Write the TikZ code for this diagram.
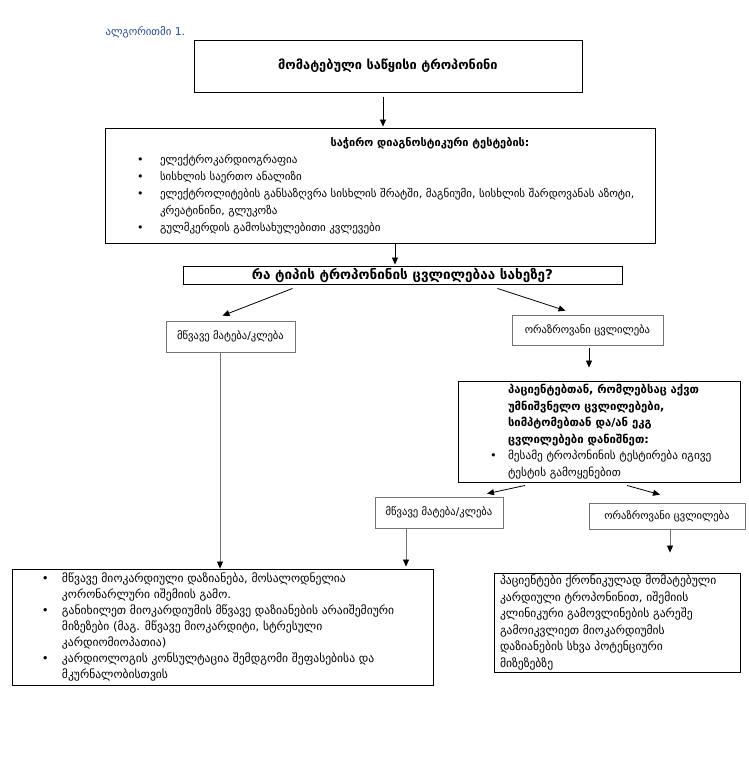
\documentclass[tikz,border=0pt]{standalone}
\usepackage{fontspec}
\setmainfont{DejaVu Sans}
\usetikzlibrary{arrows.meta,calc}
\definecolor{titleblue}{RGB}{40,75,140}
\newcommand{\fsz}[2]{\fontsize{#1}{#2}\selectfont}
\newcommand{\bul}[2]{\par\noindent\hangindent=#1\hangafter=1\makebox[#1][l]{•}#2\par}
\begin{document}
\begin{tikzpicture}[x=1pt,y=-1pt,
  box/.style={draw=black, line width=0.9pt, inner sep=0pt},
  gbox/.style={draw=black!55, line width=0.7pt, inner sep=0pt},
  arr/.style={draw=black, line width=0.8pt, -{Triangle[length=7pt,width=6pt]}},
  garr/.style={draw=black!55, line width=0.8pt, -{Triangle[length=7pt,width=6pt,color=black]}}]
\useasboundingbox (0,0) rectangle (748,784);
\fill[white] (0,0) rectangle (748,784);

\node[anchor=west, text=titleblue, font=\fsz{10.8}{12}] (title) at (102,32) {ალგორითმი 1.};

\node[box, minimum width=388pt, minimum height=52pt, font=\fsz{12.8}{14}\bfseries] (b1) at (388,66) {მომატებული საწყისი ტროპონინი};

\node[box, minimum width=550pt, minimum height=115pt] (b2) at (380,185.5) {\begin{minipage}{550pt}\fsz{11}{17}%
\centering\hspace*{100pt}\textbf{საჭირო დიაგნოსტიკური ტესტების:}\par
\raggedright\leftskip=32pt
\bul{23pt}{ელექტროკარდიოგრაფია}
\bul{23pt}{სისხლის საერთო ანალიზი}
\bul{23pt}{ელექტროლიტების განსაზღვრა სისხლის შრატში, მაგნიუმი, სისხლის შარდოვანას აზოტი,\newline კრეატინინი, გლუკოზა}
\bul{23pt}{გულმკერდის გამოსახულებითი კვლევები}
\end{minipage}};

\node[box, minimum width=439pt, minimum height=18pt, font=\fsz{13.5}{14}\bfseries] (b3) at (402.5,275) {რა ტიპის ტროპონინის ცვლილებაა სახეზე?};

\node[gbox, minimum width=129pt, minimum height=31pt, font=\fsz{10.6}{12}] (b4) at (230.5,336.5) {მწვავე მატება/კლება};
\node[gbox, minimum width=151pt, minimum height=30pt, font=\fsz{10.6}{12}] (b5) at (587.5,330) {ორაზროვანი ცვლილება};

\node[box, minimum width=282pt, minimum height=101pt] (b6) at (599,431.5) {\begin{minipage}{282pt}\fsz{11.3}{16.5}%
\raggedright\leftskip=50pt
\textbf{პაციენტებთან, რომლებსაც აქვთ\\ უმნიშვნელო ცვლილებები,\\ სიმპტომებთან და/ან ეკგ\\ ცვლილებები დანიშნეთ:}\par
\leftskip=32pt
\bul{18pt}{მესამე ტროპონინის ტესტირება იგივე\newline ტესტის გამოყენებით}
\end{minipage}};

\node[gbox, minimum width=128pt, minimum height=31pt, font=\fsz{10.6}{12}] (b7) at (439,512.5) {მწვავე მატება/კლება};
\node[gbox, minimum width=156pt, minimum height=26pt, font=\fsz{10.6}{12}] (b8) at (667,516) {ორაზროვანი ცვლილება};

\node[box, minimum width=421pt, minimum height=116pt] (b9) at (222.5,627) {\begin{minipage}{421pt}\fsz{11.6}{16}%
\raggedright\leftskip=30pt
\bul{20pt}{მწვავე მიოკარდიული დაზიანება, მოსალოდნელია\newline კორონარლური იშემიის გამო.}
\bul{20pt}{განიხილეთ მიოკარდიუმის მწვავე დაზიანების არაიშემიური\newline მიზეზები (მაგ. მწვავე მიოკარდიტი, სტრესული\newline კარდიომიოპათია)}
\bul{20pt}{კარდიოლოგის კონსულტაცია შემდგომი შეფასებისა და\newline მკურნალობისთვის}
\end{minipage}};

\node[box, minimum width=246pt, minimum height=99pt] (b10) at (617,622.5) {\begin{minipage}{246pt}\fsz{11.6}{16.5}%
\raggedright\leftskip=6pt
პაციენტები ქრონიკულად მომატებული\\ კარდიული ტროპონინით, იშემიის\\ კლინიკური გამოვლინების გარეშე\\ გამოიკვლიეთ მიოკარდიუმის\\ დაზიანების სხვა პოტენციური\\ მიზეზებზე
\end{minipage}};

% connectors
\draw[arr] ([xshift=-5pt,yshift=-5pt]b1.south) -- ([xshift=-5pt,yshift=1pt]b1.south |- b2.north);
\draw[arr] ([xshift=15pt]b2.south) -- ([xshift=15pt,yshift=1pt]b2.south |- b3.north);
\draw[arr] ([xshift=-110pt,yshift=-4pt]b3.south) -- ([xshift=-8pt,yshift=5pt]b4.north);
\draw[arr] ([xshift=95pt,yshift=-4pt]b3.south) -- ([xshift=-22pt,yshift=4pt]b5.north);
\draw[arr] ([xshift=1.5pt,yshift=-3pt]b5.south) -- ([xshift=-10pt,yshift=13pt]b6.north);
\draw[arr] ([xshift=-74pt,yshift=-3pt]b6.south) -- ([xshift=48pt,yshift=3pt]b7.north);
\draw[arr] ([xshift=28pt,yshift=-3pt]b6.south) -- ([xshift=-7pt,yshift=8pt]b8.north);
\draw[garr] ([xshift=-10.5pt]b4.south) -- ([xshift=-10.5pt]b4.south |- b9.north);
\draw[garr] ([xshift=-33pt]b7.south) -- ([xshift=-33pt,yshift=2pt]b7.south |- b9.north);
\draw[garr] ([xshift=3pt]b8.south) -- ([xshift=3pt,yshift=20pt]b8.south |- b10.north);
\end{tikzpicture}
\end{document}
